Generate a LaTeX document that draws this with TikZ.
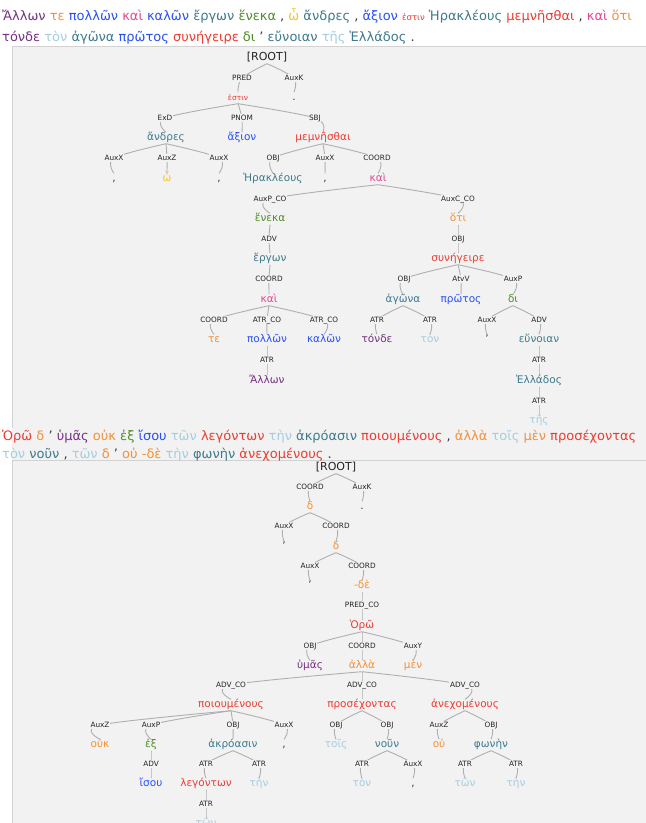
\documentclass[tikz,border=0pt]{standalone}
\usepackage{fontspec}
\setmainfont{DejaVu Sans}
\definecolor{panelc}{RGB}{242,242,242}
\definecolor{bordc}{RGB}{210,210,210}
\definecolor{cnoun}{RGB}{62,122,140}
\definecolor{cadj}{RGB}{40,80,245}
\definecolor{cverb}{RGB}{235,60,50}
\definecolor{cconj}{RGB}{228,70,150}
\definecolor{cpart}{RGB}{242,145,55}
\definecolor{cprep}{RGB}{80,140,40}
\definecolor{cart}{RGB}{165,205,225}
\definecolor{cpron}{RGB}{115,50,130}
\definecolor{cintj}{RGB}{245,195,40}
\definecolor{cpunc}{RGB}{50,60,75}
\definecolor{clab}{RGB}{35,35,35}
\definecolor{cedge}{RGB}{175,175,175}
\pgfdeclarelayer{bgl}
\pgfdeclarelayer{edges}
\pgfsetlayers{bgl,edges,main}
\tikzset{
  wd/.style={font=\fontsize{10.5}{12}\selectfont, inner sep=0.5pt, text height=7.5pt, text depth=2.5pt},
  sm/.style={font=\fontsize{7.5}{9}\selectfont},
  lab/.style={font=\fontsize{7.3}{8}\selectfont, text=clab, fill=panelc, inner sep=0.6pt, text height=5.3pt, text depth=1.2pt},
  rootn/.style={font=\fontsize{11}{12}\selectfont, text=clab, inner sep=0.5pt, text height=7.5pt, text depth=2.5pt},
  hdr/.style={font=\fontsize{13}{15}\selectfont, inner sep=0pt, anchor=base west},
  edgeln/.style={draw=cedge, line width=0.9pt},
  tnoun/.style={text=cnoun}, tadj/.style={text=cadj}, tverb/.style={text=cverb},
  tconj/.style={text=cconj}, tpart/.style={text=cpart}, tprep/.style={text=cprep},
  tart/.style={text=cart}, tpron/.style={text=cpron}, tintj/.style={text=cintj},
  tpunc/.style={text=cpunc}
}
\newcommand\tedge[3]{\draw[edgeln] plot[smooth,tension=0.55] coordinates {(#1.south) (#2.center) (#3.north)};}
\newcommand\cw[2]{\textcolor{#1}{#2}}
\begin{document}
\begin{tikzpicture}[x=1pt,y=-1pt]
\useasboundingbox (0,0) rectangle (646,823);
\clip (0,0) rectangle (646,823);
\begin{pgfonlayer}{bgl}
\fill[white] (0,0) rectangle (646,823);
\fill[panelc] (12,46) rectangle (660,460);
\draw[bordc, line width=1pt] (12,428) -- (12,46) -- (660,46);
\fill[panelc] (12,460) rectangle (660,830);
\draw[bordc, line width=1pt] (12,830) -- (12,460) -- (660,460);
\end{pgfonlayer}
% headers
\node[hdr] (h1a) at (2,20) {\cw{cpron}{Ἄλλων} \cw{cpart}{τε} \cw{cadj}{πολλῶν} \cw{cconj}{καὶ} \cw{cadj}{καλῶν} \cw{cnoun}{ἔργων} \cw{cprep}{ἕνεκα} \cw{cpunc}{,} \cw{cintj}{ὦ} \cw{cnoun}{ἄνδρες} \cw{cpunc}{,} \cw{cadj}{ἄξιον} {\fontsize{8.5}{9}\selectfont\cw{cverb}{ἐστιν}} \cw{cnoun}{Ἡρακλέους} \cw{cverb}{μεμνῆσθαι} \cw{cpunc}{,} \cw{cconj}{καὶ} \cw{cpart}{ὅτι}};
\node[hdr] (h1b) at (2,41) {\cw{cpron}{τόνδε} \cw{cart}{τὸν} \cw{cnoun}{ἀγῶνα} \cw{cadj}{πρῶτος} \cw{cverb}{συνήγειρε} \cw{cprep}{δι} \cw{cpunc}{'} \cw{cnoun}{εὔνοιαν} \cw{cart}{τῆς} \cw{cnoun}{Ἑλλάδος} \cw{cpunc}{.}};
\node[hdr] (h2a) at (2,440) {\cw{cverb}{Ὁρῶ} \cw{cpart}{δ} \cw{cpunc}{'} \cw{cpron}{ὑμᾶς} \cw{cpart}{οὐκ} \cw{cprep}{ἐξ} \cw{cadj}{ἴσου} \cw{cart}{τῶν} \cw{cverb}{λεγόντων} \cw{cart}{τὴν} \cw{cnoun}{ἀκρόασιν} \cw{cverb}{ποιουμένους} \cw{cpunc}{,} \cw{cpart}{ἀλλὰ} \cw{cart}{τοῖς} \cw{cpart}{μὲν} \cw{cverb}{προσέχοντας}};
\node[hdr] (h2b) at (2,458) {\cw{cart}{τὸν} \cw{cnoun}{νοῦν} \cw{cpunc}{,} \cw{cart}{τῶν} \cw{cpart}{δ} \cw{cpunc}{'} \cw{cpart}{οὐ} \cw{cpart}{-δὲ} \cw{cart}{τὴν} \cw{cnoun}{φωνὴν} \cw{cverb}{ἀνεχομένους} \cw{cpunc}{.}};
% ---------- tree 1
\node[rootn] (r1) at (267,58) {[ROOT]};
\node[lab] (a1) at (242,78) {PRED};   \node[wd,tverb,sm] (estin) at (238,98) {ἐστιν};
\node[lab] (a2) at (294,78) {AuxK};   \node[wd,tpunc] (dotA) at (294,98) {.};
\node[lab] (b1) at (165,118) {ExD};   \node[wd,tnoun] (andres) at (166,138) {ἄνδρες};
\node[lab] (b2) at (242,118) {PNOM};  \node[wd,tadj] (axion) at (242,138) {ἄξιον};
\node[lab] (b3) at (315,118) {SBJ};   \node[wd,tverb] (memn) at (323,138) {μεμνῆσθαι};
\node[lab] (c1) at (114,158) {AuxX};  \node[wd,tpunc] (cmA) at (114,179) {,};
\node[lab] (c2) at (167,158) {AuxZ};  \node[wd,tintj] (omega) at (167,179) {ὦ};
\node[lab] (c3) at (219,158) {AuxX};  \node[wd,tpunc] (cmB) at (219,179) {,};
\node[lab] (c4) at (273,158) {OBJ};   \node[wd,tnoun] (herak) at (273,179) {Ἡρακλέους};
\node[lab] (c5) at (325,158) {AuxX};  \node[wd,tpunc] (cmC) at (325,179) {,};
\node[lab] (c6) at (377,158) {COORD}; \node[wd,tconj] (kaiA) at (378,179) {καὶ};
\node[lab] (d1) at (270,199) {AuxP\_CO}; \node[wd,tprep] (heneka) at (270,219) {ἕνεκα};
\node[lab] (d2) at (458,199) {AuxC\_CO}; \node[wd,tpart] (hoti) at (458,219) {ὅτι};
\node[lab] (e1) at (269,239) {ADV};   \node[wd,tnoun] (ergon) at (270,259) {ἔργων};
\node[lab] (e2) at (458,239) {OBJ};   \node[wd,tverb] (syn) at (458,259) {συνήγειρε};
\node[lab] (f1) at (269,279) {COORD}; \node[wd,tconj] (kaiB) at (269,300) {καὶ};
\node[lab] (f2) at (404,279) {OBJ};   \node[wd,tnoun] (agona) at (403,300) {ἀγῶνα};
\node[lab] (f3) at (461,279) {AtvV};  \node[wd,tadj] (protos) at (461,300) {πρῶτος};
\node[lab] (f4) at (513,279) {AuxP};  \node[wd,tprep] (di) at (513,300) {δι};
\node[lab] (g1) at (214,320) {COORD}; \node[wd,tpart] (te) at (214,340) {τε};
\node[lab] (g2) at (267,320) {ATR\_CO}; \node[wd,tadj] (pollon) at (267,340) {πολλῶν};
\node[lab] (g3) at (324,320) {ATR\_CO}; \node[wd,tadj] (kalon) at (324,340) {καλῶν};
\node[lab] (g4) at (377,320) {ATR};   \node[wd,tpron] (tonde) at (377,340) {τόνδε};
\node[lab] (g5) at (430,320) {ATR};   \node[wd,tart] (tonA) at (430,340) {τὸν};
\node[lab] (g6) at (487,320) {AuxX};  \node[wd,tpunc] (apA) at (487,340) {'};
\node[lab] (g7) at (539,320) {ADV};   \node[wd,tnoun] (eunoian) at (539,340) {εὔνοιαν};
\node[lab] (h1) at (267,360) {ATR};   \node[wd,tpron] (allon) at (267,381) {Ἄλλων};
\node[lab] (h2) at (539,360) {ATR};   \node[wd,tnoun] (hellados) at (539,381) {Ἑλλάδος};
\node[lab] (i1) at (539,401) {ATR};   \node[wd,tart] (tes) at (539,421) {τῆς};
% ---------- tree 2
\node[rootn] (r2) at (336,468) {[ROOT]};
\node[lab] (p1) at (310,487) {COORD}; \node[wd,tpart] (deA) at (310,507) {δ};
\node[lab] (p2) at (362,487) {AuxK};  \node[wd,tpunc] (dotB) at (362,507) {.};
\node[lab] (q1) at (284,526) {AuxX};  \node[wd,tpunc] (apB) at (284,547) {'};
\node[lab] (q2) at (336,526) {COORD}; \node[wd,tpart] (deB) at (336,547) {δ};
\node[lab] (s1) at (310,566) {AuxX};  \node[wd,tpunc] (apC) at (310,586) {'};
\node[lab] (s2) at (362,566) {COORD}; \node[wd,tpart] (dee) at (362,586) {-δὲ};
\node[lab] (t1) at (362,605) {PRED\_CO}; \node[wd,tverb] (horo) at (362,626) {Ὁρῶ};
\node[lab] (u1) at (310,646) {OBJ};   \node[wd,tpron] (hymas) at (310,666) {ὑμᾶς};
\node[lab] (u2) at (362,646) {COORD}; \node[wd,tpart] (alla) at (362,666) {ἀλλὰ};
\node[lab] (u3) at (413,646) {AuxY};  \node[wd,tpart] (men) at (413,666) {μὲν};
\node[lab] (v1) at (231,685) {ADV\_CO}; \node[wd,tverb] (poiou) at (231,705) {ποιουμένους};
\node[lab] (v2) at (362,685) {ADV\_CO}; \node[wd,tverb] (prose) at (362,705) {προσέχοντας};
\node[lab] (v3) at (465,685) {ADV\_CO}; \node[wd,tverb] (anech) at (465,705) {ἀνεχομένους};
\node[lab] (x1) at (100,725) {AuxZ};  \node[wd,tpart] (ouk) at (100,745) {οὐκ};
\node[lab] (x2) at (151,725) {AuxP};  \node[wd,tprep] (ex) at (151,745) {ἐξ};
\node[lab] (x3) at (233,725) {OBJ};   \node[wd,tnoun] (akro) at (233,745) {ἀκρόασιν};
\node[lab] (x4) at (284,725) {AuxX};  \node[wd,tpunc] (cmD) at (284,745) {,};
\node[lab] (x5) at (336,725) {OBJ};   \node[wd,tart] (tois) at (336,745) {τοῖς};
\node[lab] (x6) at (387,725) {OBJ};   \node[wd,tnoun] (noun) at (387,745) {νοῦν};
\node[lab] (x7) at (439,725) {AuxZ};  \node[wd,tpart] (ou) at (439,745) {οὐ};
\node[lab] (x8) at (491,725) {OBJ};   \node[wd,tnoun] (phonen) at (491,745) {φωνὴν};
\node[lab] (y1) at (151,764) {ADV};   \node[wd,tadj] (isou) at (151,784) {ἴσου};
\node[lab] (y2) at (206,764) {ATR};   \node[wd,tverb] (legon) at (206,784) {λεγόντων};
\node[lab] (y3) at (259,764) {ATR};   \node[wd,tart] (tenA) at (259,784) {τὴν};
\node[lab] (y4) at (362,764) {ATR};   \node[wd,tart] (tonB) at (362,784) {τὸν};
\node[lab] (y5) at (413,764) {AuxX};  \node[wd,tpunc] (cmE) at (413,784) {,};
\node[lab] (y6) at (465,764) {ATR};   \node[wd,tart] (tonC) at (465,784) {τῶν};
\node[lab] (y7) at (516,764) {ATR};   \node[wd,tart] (tenB) at (516,784) {τὴν};
\node[lab] (z1) at (206,804) {ATR};   \node[wd,tart] (tonD) at (206,824) {τῶν};
% ---------- edges
\begin{pgfonlayer}{edges}
\tedge{r1}{a1}{estin} \tedge{r1}{a2}{dotA}
\tedge{estin}{b1}{andres} \tedge{estin}{b2}{axion} \tedge{estin}{b3}{memn}
\tedge{andres}{c1}{cmA} \tedge{andres}{c2}{omega} \tedge{andres}{c3}{cmB}
\tedge{memn}{c4}{herak} \tedge{memn}{c5}{cmC} \tedge{memn}{c6}{kaiA}
\tedge{kaiA}{d1}{heneka} \tedge{kaiA}{d2}{hoti}
\tedge{heneka}{e1}{ergon} \tedge{hoti}{e2}{syn}
\tedge{ergon}{f1}{kaiB}
\tedge{syn}{f2}{agona} \tedge{syn}{f3}{protos} \tedge{syn}{f4}{di}
\tedge{kaiB}{g1}{te} \tedge{kaiB}{g2}{pollon} \tedge{kaiB}{g3}{kalon}
\tedge{agona}{g4}{tonde} \tedge{agona}{g5}{tonA}
\tedge{di}{g6}{apA} \tedge{di}{g7}{eunoian}
\tedge{pollon}{h1}{allon} \tedge{eunoian}{h2}{hellados}
\tedge{hellados}{i1}{tes}
\tedge{r2}{p1}{deA} \tedge{r2}{p2}{dotB}
\tedge{deA}{q1}{apB} \tedge{deA}{q2}{deB}
\tedge{deB}{s1}{apC} \tedge{deB}{s2}{dee}
\tedge{dee}{t1}{horo}
\tedge{horo}{u1}{hymas} \tedge{horo}{u2}{alla} \tedge{horo}{u3}{men}
\tedge{alla}{v1}{poiou} \tedge{alla}{v2}{prose} \tedge{alla}{v3}{anech}
\tedge{poiou}{x1}{ouk} \tedge{poiou}{x2}{ex} \tedge{poiou}{x3}{akro} \tedge{poiou}{x4}{cmD}
\tedge{prose}{x5}{tois} \tedge{prose}{x6}{noun}
\tedge{anech}{x7}{ou} \tedge{anech}{x8}{phonen}
\tedge{ex}{y1}{isou}
\tedge{akro}{y2}{legon} \tedge{akro}{y3}{tenA}
\tedge{noun}{y4}{tonB} \tedge{noun}{y5}{cmE}
\tedge{phonen}{y6}{tonC} \tedge{phonen}{y7}{tenB}
\tedge{legon}{z1}{tonD}
\end{pgfonlayer}
\end{tikzpicture}
\end{document}
